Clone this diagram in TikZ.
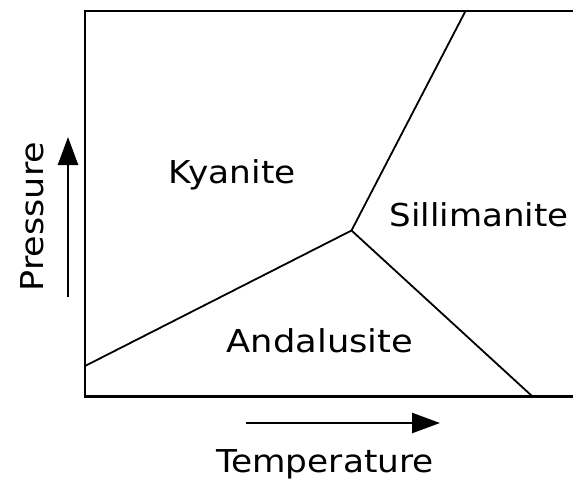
\documentclass[tikz,border=0pt]{standalone}
\usepackage{fontspec}
\setmainfont{DejaVu Sans}
\usetikzlibrary{arrows.meta}
\begin{document}
\begin{tikzpicture}[x=1pt,y=-1pt,
  lbl/.style={inner sep=0pt,anchor=base,font=\fontsize{31.5}{34}\selectfont},
  frame/.style={line width=2.8pt,line join=miter},
  phase/.style={line width=1.8pt},
  axisarrow/.style={line width=2.5pt,-{Triangle[length=28pt,width=20pt]}}]
\useasboundingbox (0,0) rectangle (573,480);
\clip (0,0) rectangle (573,480);
\fill[white] (0,0) rectangle (573,480);
% frame
\coordinate (tr) at (580,11);
\coordinate (tl) at (85,11);
\coordinate (bl) at (85,396.5);
\coordinate (br) at (580,396.5);
\draw[frame] (tr) -- (tl) -- (bl) -- (br);
% phase boundaries
\coordinate (tp) at (351.5,230.5);
\coordinate (top) at (465.5,11);
\coordinate (left) at (85,366);
\coordinate (bot) at (532.5,396.5);
\draw[phase] (left) -- (tp) -- (top);
\draw[phase] (tp) -- (bot);
% labels
\node[lbl] (ky) at (232,183) {\scalebox{1.09}[1]{Kyanite}};
\node[lbl] (si) at (479,226) {\scalebox{1.08}[1]{Sillimanite}};
\node[lbl] (an) at (320,352) {\scalebox{1.12}[1]{Andalusite}};
\node[lbl] (te) at (325,472) {\scalebox{1.09}[1]{Temperature}};
\node[lbl,rotate=90] (pr) at (43,216.5) {\scalebox{1.11}[1]{Pressure}};
% axis arrows
\coordinate (pa) at (68,297);
\coordinate (pb) at (68,137);
\coordinate (ta) at (246,423);
\coordinate (tb) at (440,423);
\draw[axisarrow] (pa) -- (pb);
\draw[axisarrow] (ta) -- (tb);
\end{tikzpicture}
\end{document}
